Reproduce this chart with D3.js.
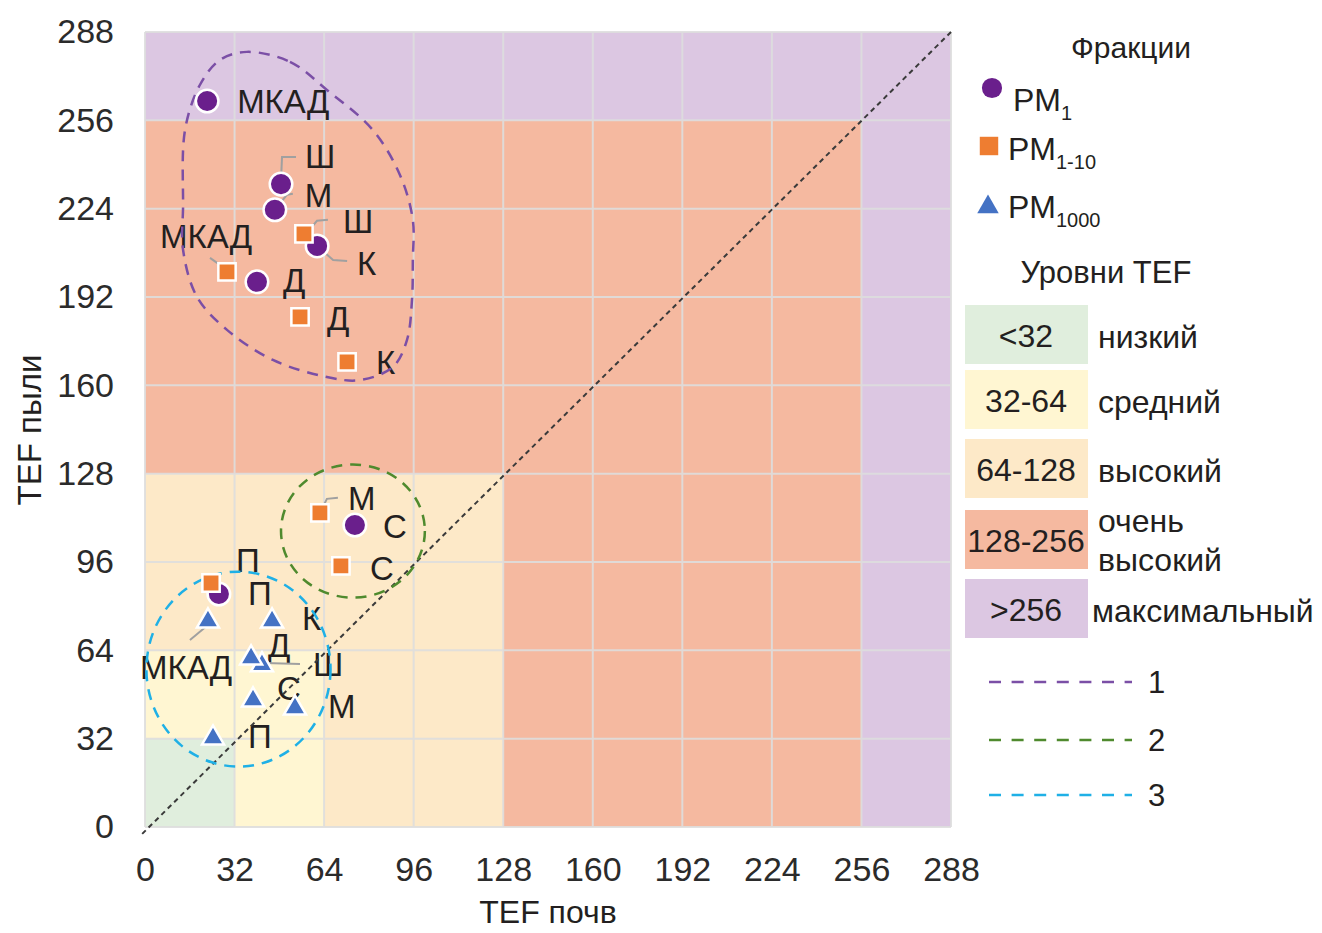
<!DOCTYPE html>
<html><head><meta charset="utf-8">
<script src="https://cdn.jsdelivr.net/npm/d3@7"></script>
<style>
html,body{margin:0;padding:0;background:#fff;}
svg{display:block;font-family:"Liberation Sans",Arial,Helvetica,sans-serif;}
</style></head>
<body><svg id="chart" width="1322" height="933"></svg>
<script>
// ---------------- DATA ----------------
const categories = ["МКАД","Ш","М","К","Д","С","П"];
const pm1X    = [22.2, 48.6, 46.4, 61.5, 40.0, 75.0, 26.4];
const pm1Y    = [263.0, 232.9, 223.6, 210.5, 197.5, 109.4, 84.4];
const pm110X  = [29.3, 56.8, 62.5, 72.2, 55.4, 70.0, 23.6];
const pm110Y  = [201.1, 214.9, 113.8, 168.5, 184.8, 94.6, 88.4];
const pm1000X = [22.5, 41.8, 53.6, 45.4, 37.9, 38.6, 24.3];
const pm1000Y = [74.6, 58.7, 43.1, 74.6, 61.2, 46.0, 32.2];
const tickValues = [0, 32, 64, 96, 128, 160, 192, 224, 256, 288];
const levelBounds = [32, 64, 128, 256, 288];
const levelRanges = ["<32", "32-64", "64-128", "128-256", ">256"];
const levelNames = [["низкий"], ["средний"], ["высокий"], ["очень", "высокий"], ["максимальный"]];
const groupNames = ["1", "2", "3"];
// group outlines (data coordinates)
const group1X = [36.4,51.8,65.0,81.4,91.1,95.7,95.7,95.4,93.6,88.6,76.8,65.0,45.7,29.3,18.6,13.6,13.6,14.3,19.6,26.8];
const group1Y = [280.8,277.2,267.0,252.5,236.2,219.9,205.4,190.9,176.4,166.7,161.9,163.0,169.2,180.1,192.0,209.1,224.6,252.5,268.8,277.9];
const group2 = {cx: 74.3, cy: 107.2, rx: 25.7, ry: 24.1};
const group3 = {cx: 33.4, cy: 57.2, rx: 32.9, ry: 35.3};

// ---------------- LAYOUT / STYLE ----------------
const levelColors = ["#e0eedd", "#fff6d2", "#fde9c8", "#f5b9a0", "#dcc7e2"];
const groupColors = ["#7b4fa6", "#4f8a2e", "#1fb0e6"];
const seriesColors = {pm1: "#6a1f8c", pm110: "#ee7d31", pm1000: "#4472c4"};
const textColor = "#231f20";
// label offsets (px, relative to marker) and leader polylines
const pm1Lab   = [[30,0],[24,-28],[30,-15],[40,17],[26,-2],[28,1],[29,-1]];
const pm1Lead  = [null,[[0,-4],[1,-27],[15,-27]],[[0,0],[12,-15],[18,-16]],[[1,1],[16,14],[30,15]],null,null,null];
const pm110Lab = [[-67,-36],[39,-13],[28,-15],[29,0],[27,1],[29,2],[25,-23]];
const pm110Lead= [[[0,-2],[-17,-14]],[[3,-1],[13,-13],[24,-14]],[[0,0],[7,-14],[18,-15]],null,null,null,null];
const pm1000Lab= [[-68,46],[51,-1],[33,-2],[30,-3],[17,-13],[24,-12],[35,-2]];
const pm1000Lead=[[[0,4],[-18,19]],[[3,-2],[38,-1]],null,null,null,null,null];

const svg = d3.select("#chart");
const x = d3.scaleLinear().domain([0, 288]).range([145, 951]);
const y = d3.scaleLinear().domain([0, 288]).range([827, 32]);

// background levels (nested squares, largest first)
const bg = svg.append("g");
for (let i = levelBounds.length - 1; i >= 0; i--) {
  const t = levelBounds[i];
  bg.append("rect").attr("x", x(0)).attr("y", y(t))
    .attr("width", x(t) - x(0)).attr("height", y(0) - y(t))
    .attr("fill", levelColors[i]);
}
// gridlines
const grid = svg.append("g").attr("stroke", "#dedede").attr("stroke-width", 2).attr("opacity", 0.9);
tickValues.forEach(v => {
  grid.append("line").attr("x1", x(v)).attr("x2", x(v)).attr("y1", y(0)).attr("y2", y(288));
  grid.append("line").attr("y1", y(v)).attr("y2", y(v)).attr("x1", x(0)).attr("x2", x(288));
});

// axes
const fontTick = 34;
const xAxis = svg.append("g").attr("transform", `translate(0,${y(0)})`)
  .call(d3.axisBottom(x).tickValues(tickValues).tickSize(0).tickPadding(30).tickFormat(d3.format("d")));
const yAxis = svg.append("g").attr("transform", `translate(${x(0)},0)`)
  .call(d3.axisLeft(y).tickValues(tickValues).tickSize(0).tickPadding(31).tickFormat(d3.format("d")));
[xAxis, yAxis].forEach(a => {
  a.select(".domain").remove();
  a.selectAll("text").attr("font-size", fontTick).attr("fill", "#2b2b2b")
    .attr("font-family", '"Liberation Sans",Arial,sans-serif');
});
svg.append("text").attr("x", 548).attr("y", 923).attr("text-anchor", "middle")
  .attr("font-size", 32).attr("fill", textColor).text("TEF почв");
svg.append("text").attr("transform", "translate(41,430) rotate(-90)").attr("text-anchor", "middle")
  .attr("font-size", 33).attr("fill", textColor).text("TEF пыли");

// labels + leaders
const series = [
  {key: "pm1", xs: pm1X, ys: pm1Y, lab: pm1Lab, lead: pm1Lead, sym: d3.symbolCircle, size: 400},
  {key: "pm110", xs: pm110X, ys: pm110Y, lab: pm110Lab, lead: pm110Lead, sym: d3.symbolSquare, size: 300},
  {key: "pm1000", xs: pm1000X, ys: pm1000Y, lab: pm1000Lab, lead: pm1000Lead, sym: d3.symbolTriangle, size: 210}
];
const labG = svg.append("g");
series.forEach(s => {
  categories.forEach((c, i) => {
    const px = x(s.xs[i]), py = y(s.ys[i]);
    labG.append("text").attr("x", px + s.lab[i][0]).attr("y", py + s.lab[i][1])
      .attr("dy", "0.36em").attr("font-size", 33).attr("fill", textColor).text(c);
  });
});

// diagonal 1:1 line
svg.append("line").attr("x1", x(-1)).attr("y1", y(-2.5)).attr("x2", x(288)).attr("y2", y(288))
  .attr("stroke", "#3a3a3a").attr("stroke-width", 2).attr("stroke-dasharray", "5,4");

// group outlines
svg.append("path")
  .datum(group1X.map((v, i) => [v, group1Y[i]]))
  .attr("d", d3.line().x(d => x(d[0])).y(d => y(d[1])).curve(d3.curveCatmullRomClosed))
  .attr("fill", "none").attr("stroke", groupColors[0]).attr("stroke-width", 2.5).attr("stroke-dasharray", "11,8");
[group2, group3].forEach((g, i) => {
  svg.append("ellipse").attr("cx", x(g.cx)).attr("cy", y(g.cy))
    .attr("rx", x(g.rx) - x(0)).attr("ry", y(0) - y(g.ry))
    .attr("fill", "none").attr("stroke", groupColors[i + 1]).attr("stroke-width", 2.5).attr("stroke-dasharray", "11,8");
});

// leaders
const leadG = svg.append("g").attr("fill", "none").attr("stroke", "#a0a0a0").attr("stroke-width", 2);
series.forEach(s => {
  categories.forEach((c, i) => {
    if (!s.lead[i]) return;
    const px = x(s.xs[i]), py = y(s.ys[i]);
    leadG.append("path").attr("d", d3.line()(s.lead[i].map(p => [px + p[0], py + p[1]])));
  });
});

// markers
series.forEach(s => {
  svg.append("g").selectAll("path").data(categories).join("path")
    .attr("transform", (d, i) => `translate(${x(s.xs[i])},${y(s.ys[i])})`)
    .attr("d", d3.symbol().type(s.sym).size(s.size))
    .attr("fill", seriesColors[s.key]).attr("stroke", "#fff").attr("stroke-width", 2.5);
});

// ---------------- LEGEND ----------------
const lg = svg.append("g").attr("fill", textColor);
lg.append("text").attr("x", 1131).attr("y", 58).attr("text-anchor", "middle").attr("font-size", 30).text("Фракции");
const legendRows = [
  {sym: d3.symbolCircle, size: 320, color: seriesColors.pm1, sub: "1", mx: 992, my: 88, ty: 111, tx: 1013},
  {sym: d3.symbolSquare, size: 340, color: seriesColors.pm110, sub: "1-10", mx: 989, my: 146, ty: 160, tx: 1008},
  {sym: d3.symbolTriangle, size: 200, color: seriesColors.pm1000, sub: "1000", mx: 988, my: 207, ty: 218, tx: 1008}
];
legendRows.forEach(r => {
  lg.append("path").attr("transform", `translate(${r.mx},${r.my})`)
    .attr("d", d3.symbol().type(r.sym).size(r.size)).attr("fill", r.color);
  const t = lg.append("text").attr("x", r.tx).attr("y", r.ty).attr("font-size", 32);
  t.append("tspan").text("PM");
  t.append("tspan").attr("font-size", 20).attr("dy", 9).text(r.sub);
});
lg.append("text").attr("x", 1106).attr("y", 283).attr("text-anchor", "middle").attr("font-size", 31).text("Уровни TEF");
const boxTops = [305, 370, 439, 510, 579];
levelRanges.forEach((r, i) => {
  lg.append("rect").attr("x", 965).attr("y", boxTops[i]).attr("width", 123).attr("height", 59)
    .attr("fill", levelColors[i]);
  lg.append("text").attr("x", 1026).attr("y", boxTops[i] + 30).attr("dy", "0.36em")
    .attr("text-anchor", "middle").attr("font-size", 32).text(r);
  const names = levelNames[i];
  names.forEach((n, j) => {
    const cy = names.length === 1 ? boxTops[i] + 31 : boxTops[i] + 10 + j * 39;
    lg.append("text").attr("x", i === 4 ? 1092 : 1098).attr("y", cy).attr("dy", "0.36em")
      .attr("font-size", 32).text(n);
  });
});
const lineRowsY = [682, 740, 795];
groupNames.forEach((g, i) => {
  lg.append("line").attr("x1", 989).attr("x2", 1132).attr("y1", lineRowsY[i]).attr("y2", lineRowsY[i])
    .attr("stroke", groupColors[i]).attr("stroke-width", 2.5).attr("stroke-dasharray", "12,10.6");
  lg.append("text").attr("x", 1148).attr("y", lineRowsY[i]).attr("dy", "0.36em").attr("font-size", 31).text(g);
});
</script></body></html>
